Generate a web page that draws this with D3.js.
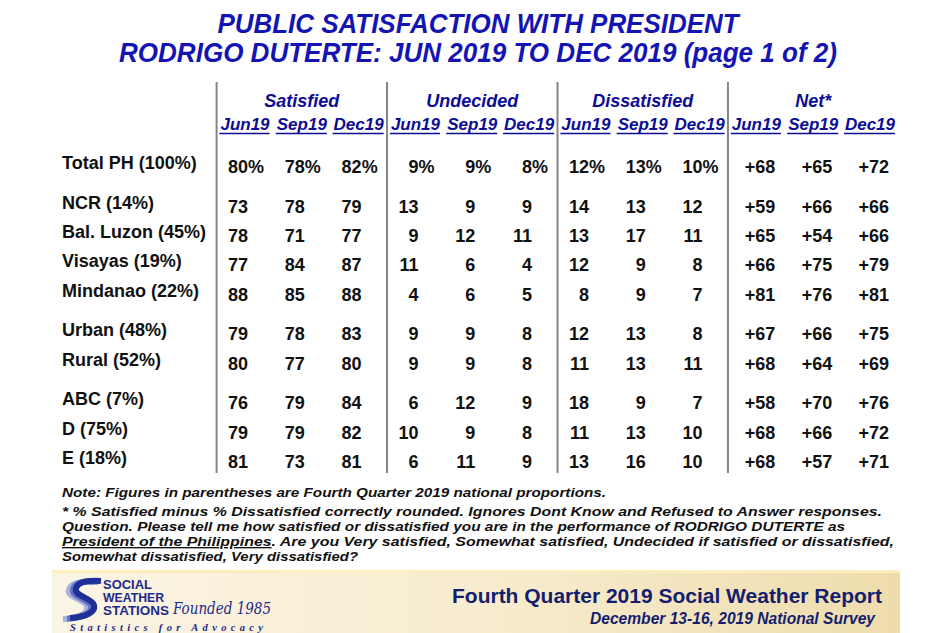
<!DOCTYPE html>
<html>
<head>
<meta charset="utf-8">
<script src="https://cdn.jsdelivr.net/npm/d3@7"></script>
<style>
  body { margin: 0; background: #fff; }
  svg { display: block; font-family: "Liberation Sans", Arial, sans-serif; }
</style>
</head>
<body>
<script>
const width = 950;
const height = 633;

// table data
const rowLabels = ['Total PH (100%)', 'NCR (14%)', 'Bal. Luzon (45%)', 'Visayas (19%)', 'Mindanao (22%)',
  'Urban (48%)', 'Rural (52%)', 'ABC (7%)', 'D (75%)', 'E (18%)'];
const rowGroups = [0, 1, 1, 1, 1, 2, 2, 3, 3, 3];
const measures = ['Satisfied', 'Undecided', 'Dissatisfied', 'Net*'];
const periods = ['Jun19', 'Sep19', 'Dec19'];

const satisfied = [[80, 78, 82], [73, 78, 79], [78, 71, 77], [77, 84, 87], [88, 85, 88],
  [79, 78, 83], [80, 77, 80], [76, 79, 84], [79, 79, 82], [81, 73, 81]];
const undecided = [[9, 9, 8], [13, 9, 9], [9, 12, 11], [11, 6, 4], [4, 6, 5],
  [9, 9, 8], [9, 9, 8], [6, 12, 9], [10, 9, 8], [6, 11, 9]];
const dissatisfied = [[12, 13, 10], [14, 13, 12], [13, 17, 11], [12, 9, 8], [8, 9, 7],
  [12, 13, 8], [11, 13, 11], [18, 9, 7], [11, 13, 10], [13, 16, 10]];
const net = [[68, 65, 72], [59, 66, 66], [65, 54, 66], [66, 75, 79], [81, 76, 81],
  [67, 66, 75], [68, 64, 69], [58, 70, 76], [68, 66, 72], [68, 57, 71]];

const titleLines = ['PUBLIC SATISFACTION  WITH PRESIDENT', 'RODRIGO DUTERTE: JUN 2019 TO DEC 2019 (page 1 of 2)'];
const noteLines = [
  'Note: Figures  in parentheses  are Fourth Quarter 2019 national  proportions.',
  '* % Satisfied  minus  % Dissatisfied  correctly  rounded.  Ignores  Dont Know and Refused  to Answer responses.',
  'Question.  Please  tell me how satisfied  or dissatisfied  you are in the performance  of RODRIGO DUTERTE as',
  '|President  of the Philippines|.  Are you Very satisfied,  Somewhat  satisfied,  Undecided  if satisfied  or dissatisfied,',
  'Somewhat  dissatisfied,  Very dissatisfied?'
];

const series = [satisfied, undecided, dissatisfied, net];
const columns = d3.cross(measures, periods).map(([m, p]) => m + '|' + p);

const navy = '#0c0c96';
const titleBlue = '#1414b4';

const svg = d3.select('body').append('svg').attr('width', width).attr('height', height);

// title
svg.append('g').selectAll('text').data(titleLines).join('text')
  .attr('x', 478)
  .attr('y', (d, i) => 33 + i * 29)
  .attr('text-anchor', 'middle')
  .attr('font-family', '"Liberation Sans Narrow", "Arial Narrow", "Liberation Sans", sans-serif')
  .attr('font-size', 28)
  .attr('font-weight', 'bold')
  .attr('font-style', 'italic')
  .attr('fill', titleBlue)
  .attr('textLength', (d, i) => [521, 718][i])
  .attr('lengthAdjust', 'spacingAndGlyphs')
  .text(d => d);

// scales
const x = d3.scalePoint().domain(columns).range([245, 870]);
const step = x.step();
const slots = rowGroups.map((g, i) => i + 0.35 * g);
const y = d3.scaleLinear().domain([0, d3.max(slots)]).range([173, 468]);

// separators
const sepX = measures.map(m => x(m + '|' + periods[0]) - step / 2);
svg.append('g').selectAll('line').data(sepX).join('line')
  .attr('x1', d => d).attr('x2', d => d)
  .attr('y1', 82).attr('y2', 473)
  .attr('stroke', '#858585').attr('stroke-width', 2);

// group headers
svg.append('g').selectAll('text').data(measures).join('text')
  .attr('x', m => x(m + '|' + periods[1]))
  .attr('y', 107)
  .attr('text-anchor', 'middle')
  .attr('font-size', 18)
  .attr('font-weight', 'bold')
  .attr('font-style', 'italic')
  .attr('fill', navy)
  .text(d => d);

// period headers, underlined
const sub = svg.append('g').selectAll('g').data(columns).join('g');
sub.append('text')
  .attr('x', d => x(d))
  .attr('y', 130)
  .attr('text-anchor', 'middle')
  .attr('font-size', 17)
  .attr('font-weight', 'bold')
  .attr('font-style', 'italic')
  .attr('fill', navy)
  .text(d => d.split('|')[1]);
sub.each(function(d) {
  const w = d3.select(this).select('text').node().getComputedTextLength();
  d3.select(this).append('line')
    .attr('x1', x(d) - w / 2 - 1).attr('x2', x(d) + w / 2)
    .attr('y1', 133.5).attr('y2', 133.5)
    .attr('stroke', navy).attr('stroke-width', 1.6);
});

// row labels
svg.append('g').selectAll('text').data(rowLabels).join('text')
  .attr('x', 62)
  .attr('y', (d, i) => y(slots[i]) - 4)
  .attr('font-size', 18)
  .attr('font-weight', 'bold')
  .attr('fill', '#111')
  .text(d => d);

// cells
const cells = [];
rowLabels.forEach((r, i) => {
  measures.forEach((m, j) => {
    periods.forEach((p, k) => {
      cells.push({row: i, measure: j, col: m + '|' + p, value: series[j][i][k]});
    });
  });
});

const cell = svg.append('g').selectAll('g').data(cells).join('g')
  .attr('transform', d => `translate(${x(d.col) + (d.measure === 3 ? 19 : 3)},${y(slots[d.row])})`)
  .attr('font-size', 18)
  .attr('font-weight', 'bold')
  .attr('fill', '#111');
cell.append('text')
  .attr('text-anchor', 'end')
  .text(d => (d.measure === 3 ? '+' : '') + d.value);
cell.filter(d => d.row === 0 && d.measure < 3).append('text')
  .attr('x', 0)
  .text('%');

// notes
const notes = svg.append('g').selectAll('text').data(noteLines).join('text')
  .attr('x', 62)
  .attr('y', (d, i) => [497, 516, 531, 546, 561][i])
  .attr('font-size', 13.5)
  .attr('font-weight', 'bold')
  .attr('font-style', 'italic')
  .attr('fill', '#111')
  .attr('textLength', (d, i) => [544, 820, 783, 832, 296][i])
  .attr('lengthAdjust', 'spacingAndGlyphs');
notes.each(function(d) {
  const parts = d.split('|');
  d3.select(this).selectAll('tspan').data(parts).join('tspan')
    .style('text-decoration', (p, i) => i % 2 ? 'underline' : null)
    .text(p => p);
});

// footer band
const defs = svg.append('defs');
const grad = defs.append('linearGradient').attr('id', 'band').attr('x1', 0).attr('x2', 1).attr('y1', 0).attr('y2', 0);
grad.append('stop').attr('offset', 0).attr('stop-color', '#fbf5e4');
grad.append('stop').attr('offset', 0.55).attr('stop-color', '#f7ebcd');
grad.append('stop').attr('offset', 1).attr('stop-color', '#eedcac');
svg.append('rect').attr('x', 52).attr('y', 570).attr('width', 848).attr('height', 63).attr('fill', 'url(#band)');
svg.append('rect').attr('x', 52).attr('y', 570).attr('width', 848).attr('height', 3).attr('fill', '#fbefc0');

// logo swoosh
const logo = svg.append('g');
const sPath = 'M101,581 C88,580 78,582 76,588 C73,596 92,598 94,605 C96,612 86,617 70,618';
[['#aab3e0', 7, 6], ['#6574c4', 3, 4], ['#1e2f96', 0, 0]].forEach(([c, dx, dy]) => {
  logo.append('path')
    .attr('d', sPath)
    .attr('transform', `translate(${-dx},${dy * 0.2})`)
    .attr('fill', 'none')
    .attr('stroke', c)
    .attr('stroke-width', 6)
    .attr('stroke-linecap', 'butt');
});
logo.selectAll('text.sws').data(['SOCIAL', 'WEATHER', 'STATIONS']).join('text')
  .attr('class', 'sws')
  .attr('x', 103)
  .attr('y', (d, i) => 589 + i * 13)
  .attr('font-family', '"Liberation Sans Narrow", "Liberation Sans", sans-serif')
  .attr('font-size', 12)
  .attr('font-weight', 'bold')
  .attr('fill', '#1e2a8c')
  .attr('textLength', (d, i) => [49, 61, 66][i])
  .attr('lengthAdjust', 'spacingAndGlyphs')
  .text(d => d);
logo.append('text')
  .attr('x', 173).attr('y', 614)
  .attr('font-family', '"DejaVu Serif", serif')
  .attr('font-style', 'italic')
  .attr('font-size', 16)
  .attr('fill', '#1e2a8c')
  .attr('textLength', 98)
  .attr('lengthAdjust', 'spacingAndGlyphs')
  .text('Founded 1985');
logo.append('text')
  .attr('x', 70).attr('y', 631)
  .attr('font-family', '"Liberation Serif", serif')
  .attr('font-style', 'italic')
  .attr('font-weight', 'bold')
  .attr('font-size', 10.5)
  .attr('fill', '#1e2a8c')
  .attr('textLength', 193)
  .text('Statistics for Advocacy');

// footer titles
svg.append('text')
  .attr('x', 882).attr('y', 603)
  .attr('text-anchor', 'end')
  .attr('font-size', 20)
  .attr('font-weight', 'bold')
  .attr('fill', '#141e6e')
  .attr('textLength', 430)
  .attr('lengthAdjust', 'spacingAndGlyphs')
  .text('Fourth Quarter  2019  Social Weather Report');
svg.append('text')
  .attr('x', 875).attr('y', 624)
  .attr('text-anchor', 'end')
  .attr('font-size', 16)
  .attr('font-weight', 'bold')
  .attr('font-style', 'italic')
  .attr('fill', '#141e6e')
  .attr('textLength', 285)
  .attr('lengthAdjust', 'spacingAndGlyphs')
  .text('December 13-16, 2019 National Survey');

svg.node();
</script>
</body>
</html>
